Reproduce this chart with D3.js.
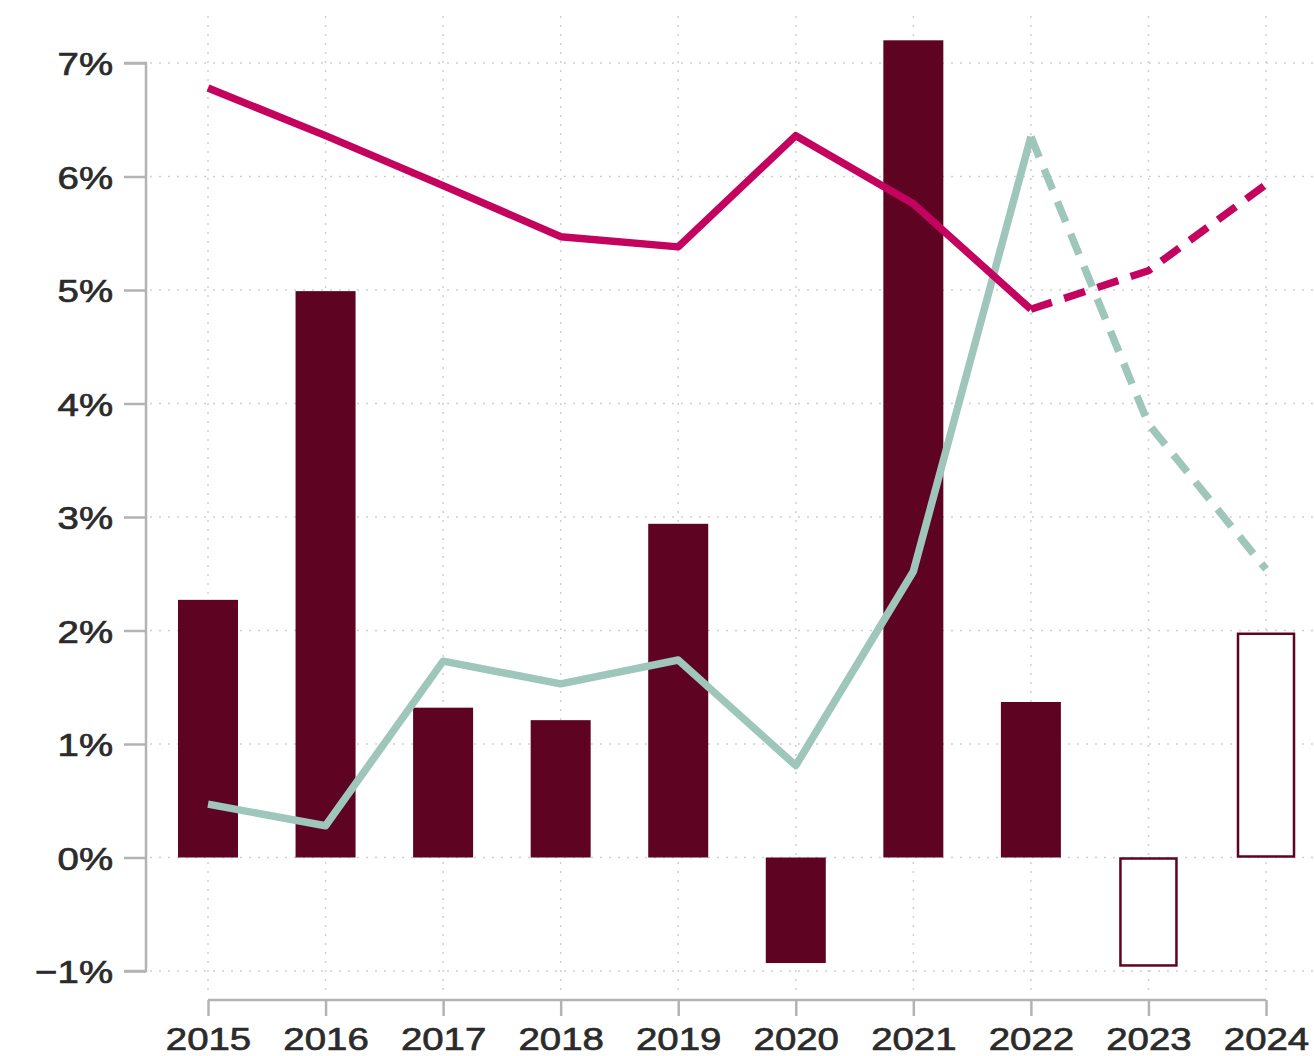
<!DOCTYPE html>
<html>
<head>
<meta charset="utf-8">
<script src="https://cdn.jsdelivr.net/npm/d3@7"></script>
<style>
  body { margin: 0; background: #fff; }
  text { font-family: "Liberation Sans", Arial, sans-serif; fill: #2b2b2b; }
</style>
</head>
<body>
<svg id="chart"></svg>
<script>
const years = [2015, 2016, 2017, 2018, 2019, 2020, 2021, 2022, 2023, 2024];
const barValues = [2.27, 4.99, 1.32, 1.21, 2.94, -0.93, 7.2, 1.37, -0.96, 1.98];
const barForecast = [false, false, false, false, false, false, false, false, true, true];
const pinkLine = [6.78, 6.36, 5.92, 5.47, 5.38, 6.36, 5.76, 4.83, 5.17, 5.93];
const greenLine = [0.47, 0.28, 1.73, 1.53, 1.74, 0.81, 2.52, 6.35, 3.82, 2.54];
const forecastFrom = 2022;
const yTicks = [-1, 0, 1, 2, 3, 4, 5, 6, 7];

const width = 1314;
const height = 1056;
const barColor = '#5e0322';
const pinkColor = '#c4035f';
const greenColor = '#9fc6ba';
const axisColor = '#b3b3b3';
const gridColor = '#cfcfcf';

const svg = d3.select('#chart').attr('width', width).attr('height', height);

const xScale = d3.scalePoint()
  .domain(years)
  .range([208, 1266]);

const yScale = d3.scaleLinear()
  .domain([-1, 7])
  .range([971, 63]);

// grid
svg.append('g')
  .selectAll('line')
  .data(yTicks)
  .enter()
  .append('line')
  .attr('x1', 150).attr('x2', width)
  .attr('y1', d => yScale(d)).attr('y2', d => yScale(d))
  .attr('stroke', gridColor)
  .attr('stroke-width', 1.5)
  .attr('stroke-dasharray', '2,7');

svg.append('g')
  .selectAll('line')
  .data(years)
  .enter()
  .append('line')
  .attr('x1', d => xScale(d)).attr('x2', d => xScale(d))
  .attr('y1', 16).attr('y2', 994)
  .attr('stroke', gridColor)
  .attr('stroke-width', 1.5)
  .attr('stroke-dasharray', '2,7');

// bars
const barWidth = 60;
svg.append('g')
  .selectAll('rect')
  .data(years.map((y, i) => ({ year: y, v: barValues[i], f: barForecast[i] })))
  .enter()
  .append('rect')
  .attr('x', d => xScale(d.year) - (d.f ? barWidth / 2 - 2 : barWidth / 2))
  .attr('width', d => d.f ? barWidth - 4 : barWidth)
  .attr('y', d => yScale(Math.max(0, d.v)) + (d.f ? 1 : 0))
  .attr('height', d => Math.abs(yScale(d.v) - yScale(0)) - (d.f ? 2 : 0))
  .attr('fill', d => d.f ? '#fff' : barColor)
  .attr('stroke', d => d.f ? barColor : 'none')
  .attr('stroke-width', 2.5);

// lines
const line = d3.line()
  .x(d => xScale(d.year))
  .y(d => yScale(d.v));

function drawSeries(values, color) {
  const pts = years.map((y, i) => ({ year: y, v: values[i] }));
  const solid = pts.filter(d => d.year <= forecastFrom);
  const dashed = pts.filter(d => d.year >= forecastFrom);
  svg.append('path')
    .datum(solid)
    .attr('d', line)
    .attr('fill', 'none')
    .attr('stroke', color)
    .attr('stroke-width', 7.5)
    .attr('stroke-linejoin', 'round');
  svg.append('path')
    .datum(dashed)
    .attr('d', line)
    .attr('fill', 'none')
    .attr('stroke', color)
    .attr('stroke-width', 7.5)
    .attr('stroke-dasharray', '22,13');
}
drawSeries(greenLine, greenColor);
drawSeries(pinkLine, pinkColor);

// y axis
const yAxis = d3.axisLeft(yScale)
  .tickValues(yTicks)
  .tickSize(22)
  .tickPadding(12)
  .tickFormat(d => (d < 0 ? '\u2212' + Math.abs(d) : d) + '%');

const gy = svg.append('g')
  .attr('transform', 'translate(146,0)')
  .call(yAxis);
gy.select('.domain').attr('stroke', axisColor).attr('stroke-width', 2.5)
  .attr('d', `M-22,${yScale(7)}H0V${yScale(-1)}H-22`);
gy.selectAll('.tick line').attr('stroke', axisColor).attr('stroke-width', 2.5);
gy.selectAll('.tick text')
  .attr('font-size', 32)
  .attr('font-family', '"Liberation Sans", Arial, sans-serif')
  .attr('fill', '#2b2b2b')
  .attr('stroke', '#2b2b2b')
  .attr('stroke-width', 0.7)
  .attr('dy', '0.36em')
  .attr('transform', 'scale(1.2,1)')
  .attr('x', -33 / 1.2);

// x axis
const xAxis = d3.axisBottom(xScale)
  .tickSize(16)
  .tickPadding(14);

const gx = svg.append('g')
  .attr('transform', 'translate(0,1000)')
  .call(xAxis);
gx.select('.domain').attr('stroke', axisColor).attr('stroke-width', 2.5)
  .attr('d', `M${xScale(2015)},0H${xScale(2024)}`);
gx.selectAll('.tick line').attr('stroke', axisColor).attr('stroke-width', 2.5);
gx.selectAll('.tick text')
  .attr('font-size', 32)
  .attr('font-family', '"Liberation Sans", Arial, sans-serif')
  .attr('fill', '#2b2b2b')
  .attr('stroke', '#2b2b2b')
  .attr('stroke-width', 0.7)
  .attr('dy', '0.71em')
  .attr('y', 27)
  .attr('transform', 'scale(1.2,1)');
</script>
</body>
</html>
